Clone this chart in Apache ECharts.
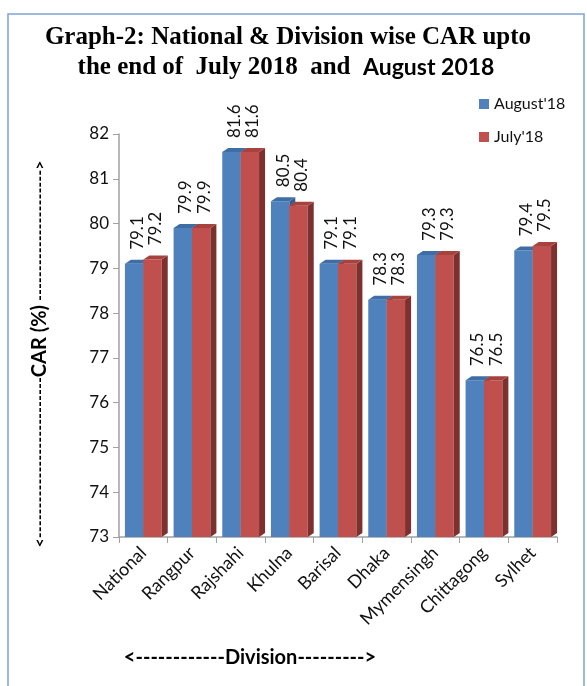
<!DOCTYPE html>
<html><head><meta charset="utf-8">
<script src="https://cdn.jsdelivr.net/npm/echarts@6/dist/echarts.min.js"></script>
<style>html,body{margin:0;padding:0;background:#fff}#c{width:587px;height:686px}</style>
</head><body><div id="c"></div>
<script>
const categories = ['National','Rangpur','Rajshahi','Khulna','Barisal','Dhaka','Mymensingh','Chittagong','Sylhet'];
const august18 = [79.1,79.9,81.6,80.5,79.1,78.3,79.3,76.5,79.4];
const july18 = [79.2,79.9,81.6,80.4,79.1,78.3,79.3,76.5,79.5];
const seriesNames = ["August'18","July'18"];
const yMin = 73, yMax = 82, yStep = 1;

const palette = [
  {front:'#4F81BD', top:'#3F6DA6', side:'#385D8A'},
  {front:'#C0504D', top:'#A8423F', side:'#7D302E'}
];
const DX = 6, DY = 4;

function makeRender(si){
  return function(params, api){
    const idx = api.value(0), v = api.value(1);
    const top = api.coord([idx, v]);
    const base = api.coord([idx, yMin]);
    const band = api.size([1,0])[0];
    const w = band*0.378;
    const x = si===0 ? top[0]-w : top[0];
    const yt = top[1], yb = base[1];
    const c = palette[si];
    return {type:'group', children:[
      {type:'rect', shape:{x:x, y:yt, width:w, height:yb-yt}, style:{fill:c.front}},
      {type:'polygon', shape:{points:[[x+w,yt],[x+w+DX,yt-DY],[x+w+DX,yb-DY],[x+w,yb]]}, style:{fill:c.side}},
      {type:'polygon', shape:{points:[[x,yt],[x+DX,yt-DY],[x+w+DX,yt-DY],[x+w,yt]]}, style:{fill:c.top}},
      {type:'text', x:x+w/2+3, y:yt-14, rotation:Math.PI/2,
        style:{text:v.toFixed(1), fill:'#111', font:'17px Lato', align:'left', verticalAlign:'middle'}}
    ]};
  };
}

const chart = echarts.init(document.getElementById('c'));
const dashL = '-'.repeat(27), dashU = '-'.repeat(22);
chart.setOption({
  animation:false,
  grid:{left:119, right:30, top:134, bottom:149},
  legend:{
    orient:'vertical', left:474, top:91, itemWidth:10, itemHeight:10, itemGap:17, icon:'rect',
    textStyle:{fontFamily:'Lato', fontSize:16, color:'#111', lineHeight:14},
    data:seriesNames
  },
  xAxis:{
    type:'category', data:categories,
    axisLine:{lineStyle:{color:'#A0A0A0', width:1.5}},
    axisTick:{show:true, length:6, lineStyle:{color:'#A0A0A0'}},
    axisLabel:{rotate:45, fontFamily:'Lato', fontSize:18, color:'#111', margin:13, interval:0}
  },
  yAxis:{
    type:'value', min:yMin, max:yMax, interval:yStep,
    splitLine:{show:false},
    axisLine:{show:true, lineStyle:{color:'#A0A0A0', width:1.5}},
    axisTick:{show:true, length:6, lineStyle:{color:'#A0A0A0'}},
    axisLabel:{fontFamily:'Lato', fontSize:17, color:'#111', margin:10}
  },
  graphic:[
    {type:'rect', shape:{x:8, y:14, width:576, height:700}, style:{fill:'none', stroke:'#7FA3D3', lineWidth:1.5}, silent:true},
    {type:'text', x:288, y:38, style:{text:'Graph-2: National & Division wise CAR upto', font:'bold 25px "Liberation Serif"', fill:'#000', align:'center', verticalAlign:'middle'}},
    {type:'text', x:286, y:68, style:{
      text:'{s|the end of  July 2018  and  }{b|August 2018}', align:'center', verticalAlign:'middle',
      rich:{s:{font:'bold 25px "Liberation Serif"', fill:'#000'}, b:{font:'bold 23px Lato', fill:'#000'}}}},
    {type:'text', x:40, y:354, rotation:Math.PI/2, style:{
      text:'{d|<'+dashL+'}{b|CAR (%)}{d| '+dashU+'>}', align:'center', verticalAlign:'middle',
      rich:{d:{font:'bold 16px Lato', fill:'#000'}, b:{font:'bold 20px Lato', fill:'#000'}}}},
    {type:'text', x:250, y:658, style:{
      text:'{d|<------------}{b|Division}{d|--------->}', align:'center', verticalAlign:'middle',
      rich:{d:{font:'bold 20px Lato', fill:'#000'}, b:{font:'bold 20px Lato', fill:'#000'}}}}
  ],
  series:[
    {type:'custom', name:seriesNames[0], itemStyle:{color:palette[0].front}, encode:{x:0,y:1},
      data:august18.map((v,i)=>[i,v]), renderItem:makeRender(0), clip:false},
    {type:'custom', name:seriesNames[1], itemStyle:{color:palette[1].front}, encode:{x:0,y:1},
      data:july18.map((v,i)=>[i,v]), renderItem:makeRender(1), clip:false}
  ]
});
</script></body></html>
